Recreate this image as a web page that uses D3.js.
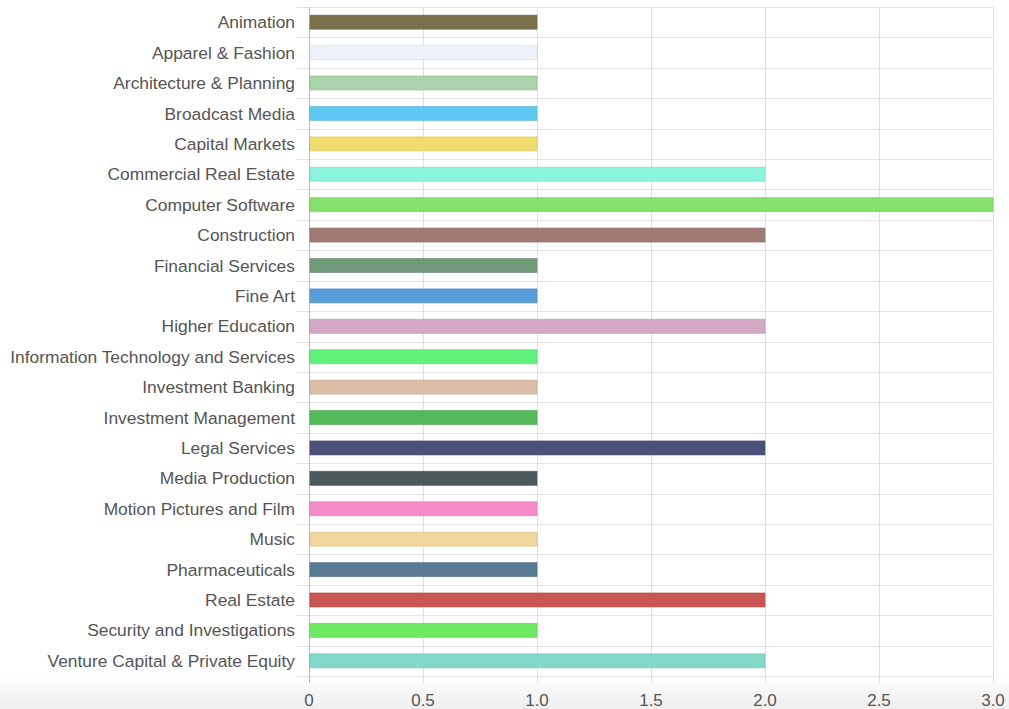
<html>
<head>
  <script src="https://d3js.org/d3.v7.min.js"></script>
  <style>
    body { margin: 0; background: #fff; }
  </style>
</head>
<body>
<script>

// industries and counts
let industries = [
  "Animation", "Apparel & Fashion", "Architecture & Planning", "Broadcast Media",
  "Capital Markets", "Commercial Real Estate", "Computer Software", "Construction",
  "Financial Services", "Fine Art", "Higher Education", "Information Technology and Services",
  "Investment Banking", "Investment Management", "Legal Services", "Media Production",
  "Motion Pictures and Film", "Music", "Pharmaceuticals", "Real Estate",
  "Security and Investigations", "Venture Capital & Private Equity"
];
let counts = [1, 1, 1, 1, 1, 2, 3, 2, 1, 1, 2, 1, 1, 1, 2, 1, 1, 1, 1, 2, 1, 2];
let barColors = [
  "#78714b", "#eef3fa", "#a9d4aa", "#5ec9f2", "#f1dc70", "#8cf4dc", "#86e06e", "#a07a74",
  "#6f9a78", "#5a9ed9", "#d5a9c5", "#60f27a", "#d9bda6", "#55b95b", "#4b5179", "#4b5b5c",
  "#f68bc9", "#f1d69b", "#587a92", "#c95552", "#6ee962", "#82d9ca"
];
let xTicks = [0, 0.5, 1.0, 1.5, 2.0, 2.5, 3.0];

let canvasW = 1009;
let canvasH = 709;
let plotLeft = 309, plotRight = 993, plotTop = 7, plotBottom = 676;

let svg = d3.select("body").append("svg")
  .attr("width", canvasW)
  .attr("height", canvasH);

// faint grey strip along the bottom like the screenshot
let grad = svg.append("defs").append("linearGradient")
  .attr("id", "fade").attr("x1", 0).attr("y1", 0).attr("x2", 0).attr("y2", 1);
grad.append("stop").attr("offset", "0").attr("stop-color", "#ffffff");
grad.append("stop").attr("offset", "1").attr("stop-color", "#eeeeee");
svg.append("rect")
  .attr("x", 0).attr("y", 676).attr("width", canvasW).attr("height", 33)
  .attr("fill", "url(#fade)");

let x = d3.scaleLinear().domain([0, 3]).range([plotLeft, plotRight]);
let y = d3.scaleBand().domain(industries).range([plotTop, plotBottom]).paddingInner(0).paddingOuter(0);

// horizontal grid lines at band edges
let edges = industries.map(d => y(d)).concat([plotBottom]);
svg.selectAll(".hgrid")
  .data(edges)
  .enter()
  .append("line")
  .attr("x1", plotLeft - 13)
  .attr("x2", plotRight)
  .attr("y1", d => Math.round(d) + 0.5)
  .attr("y2", d => Math.round(d) + 0.5)
  .attr("stroke", "#e4e4e4")
  .attr("stroke-width", 1);

// vertical grid lines
svg.selectAll(".vgrid")
  .data(xTicks)
  .enter()
  .append("line")
  .attr("x1", d => Math.round(x(d)) + 0.5)
  .attr("x2", d => Math.round(x(d)) + 0.5)
  .attr("y1", plotTop)
  .attr("y2", plotBottom + 7)
  .attr("stroke", d => d === 0 ? "#b8b8b8" : "#e0e0e0")
  .attr("stroke-width", 1);

// bars
let barH = 14;
svg.selectAll(".bar")
  .data(industries)
  .enter()
  .append("rect")
  .attr("x", x(0) + 1)
  .attr("y", d => y(d) + y.bandwidth() / 2 - barH / 2)
  .attr("width", (d, i) => x(counts[i]) - x(0) - 1)
  .attr("height", barH)
  .attr("fill", (d, i) => barColors[i])
  .attr("stroke", (d, i) => d3.color(barColors[i]).darker(0.35))
  .attr("stroke-opacity", 0.6)
  .attr("stroke-width", 1);

// category labels
svg.selectAll(".catLabel")
  .data(industries)
  .enter()
  .append("text")
  .attr("x", 295)
  .attr("y", d => y(d) + y.bandwidth() / 2)
  .attr("dy", "0.35em")
  .attr("text-anchor", "end")
  .attr("font-family", "Liberation Sans, Arial, sans-serif")
  .attr("font-size", "17.4px")
  .attr("fill", "#555")
  .text(d => d);

// x tick labels
svg.selectAll(".tickLabel")
  .data(xTicks)
  .enter()
  .append("text")
  .attr("x", d => x(d))
  .attr("y", 706)
  .attr("text-anchor", "middle")
  .attr("font-family", "Liberation Sans, Arial, sans-serif")
  .attr("font-size", "17px")
  .attr("fill", "#555")
  .text(d => d === 0 ? "0" : d3.format(".1f")(d));

</script>
</body>
</html>
